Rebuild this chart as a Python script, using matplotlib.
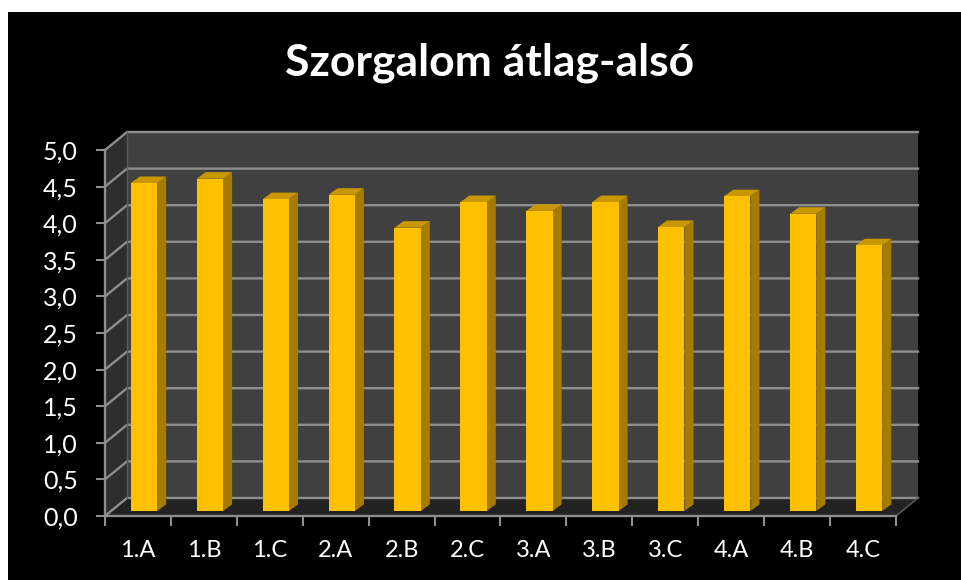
import numpy as np
import matplotlib
matplotlib.use('Agg')
import matplotlib.pyplot as plt
from matplotlib.patches import Polygon, Rectangle

# Values
classes = ['1.A', '1.B', '1.C', '2.A', '2.B', '2.C', '3.A', '3.B', '3.C', '4.A', '4.B', '4.C']
szorgalom = [4.48, 4.54, 4.26, 4.32, 3.87, 4.22, 4.10, 4.22, 3.88, 4.30, 4.06, 3.63]
y_ticks = [0, 0.5, 1, 1.5, 2, 2.5, 3, 3.5, 4, 4.5, 5]
y_labels = ['0,0', '0,5', '1,0', '1,5', '2,0', '2,5', '3,0', '3,5', '4,0', '4,5', '5,0']

plt.rcParams['font.family'] = ['Lato', 'DejaVu Sans']

W, H = 962, 580
GRID = '#8e8e8e'
fig = plt.figure(figsize=(W / 100, H / 100), dpi=100, facecolor='white')
fig.add_artist(Rectangle((8 / W, 0), 1 - 8 / W, 1 - 12 / H, transform=fig.transFigure,
                         facecolor='black', edgecolor='none', zorder=-1))

# axes = front plane of the fake 3D box
ax = fig.add_axes([105 / W, 1 - 516 / H, 791 / W, 366 / H])
ax.patch.set_visible(False)
ax.set_xlim(0, 12)
ax.set_ylim(0, 5)

# depth offset of the box, in data units
dx, dy = 0.334, 0.246

# walls and floor
ax.add_patch(Polygon([(dx, dy), (12 + dx, dy), (12 + dx, 5 + dy), (dx, 5 + dy)], fc='#404040', ec='none', clip_on=False, zorder=1))
ax.add_patch(Polygon([(0, 0), (dx, dy), (dx, 5 + dy), (0, 5)], fc='#2e2e2e', ec='none', clip_on=False, zorder=1))
ax.add_patch(Polygon([(0, 0), (12, 0), (12 + dx, dy), (dx, dy)], fc='#222222', ec='none', clip_on=False, zorder=1))

# gridlines run along the left wall and then the back wall
for t in y_ticks:
    ax.plot([0, dx, 12 + dx], [t, t + dy, t + dy], color=GRID, lw=1.7, clip_on=False, zorder=2,
            solid_joinstyle='miter')
ax.plot([dx, dx], [dy, 5 + dy], color='#5a5a5a', lw=1.0, clip_on=False, zorder=2)
ax.plot([12, 12 + dx], [0, dy], color='#555555', lw=1.2, clip_on=False, zorder=2)

# bars: front face plus side and top polygons
x = np.arange(len(classes)) + 0.5
bar_w = 0.40
off_x, off_y = 0.091, 0.068
bx, by = 0.137, 0.09
ax.bar(x + off_x, szorgalom, width=bar_w, bottom=off_y, color='#FFC000', zorder=4, clip_on=False)
for xi, v in zip(x + off_x, szorgalom):
    l, r, b, t = xi - bar_w / 2, xi + bar_w / 2, off_y, off_y + v
    ax.add_patch(Polygon([(r, b), (r + bx, b + by), (r + bx, t + by), (r, t)], fc='#A67C00', ec='none', zorder=3, clip_on=False))
    ax.add_patch(Polygon([(l, t), (r, t), (r + bx, t + by), (l + bx, t + by)], fc='#C99700', ec='none', zorder=3, clip_on=False))

# axes lines and labels
for s in ['top', 'right']:
    ax.spines[s].set_visible(False)
for s in ['left', 'bottom']:
    ax.spines[s].set_color(GRID)
    ax.spines[s].set_linewidth(1.7)
    ax.spines[s].set_zorder(5)
ax.set_yticks(y_ticks)
ax.set_yticklabels(y_labels)
ax.set_xticks(np.arange(13))
ax.set_xticklabels([])
ax.set_xticks(x, classes, minor=True)
ax.tick_params(axis='y', colors=GRID, length=6.5, width=1.5, labelcolor='white', labelsize=18, pad=13)
ax.tick_params(axis='x', which='major', colors=GRID, length=7, width=1.5)
ax.tick_params(axis='x', which='minor', length=0, labelcolor='white', labelsize=17, pad=17)

fig.text(489.5 / W, 1 - 63 / H, 'Szorgalom átlag-alsó', color='white', fontsize=32, fontweight='bold',
         ha='center', va='center')

fig.savefig('out.png', dpi=100, facecolor=fig.get_facecolor())
